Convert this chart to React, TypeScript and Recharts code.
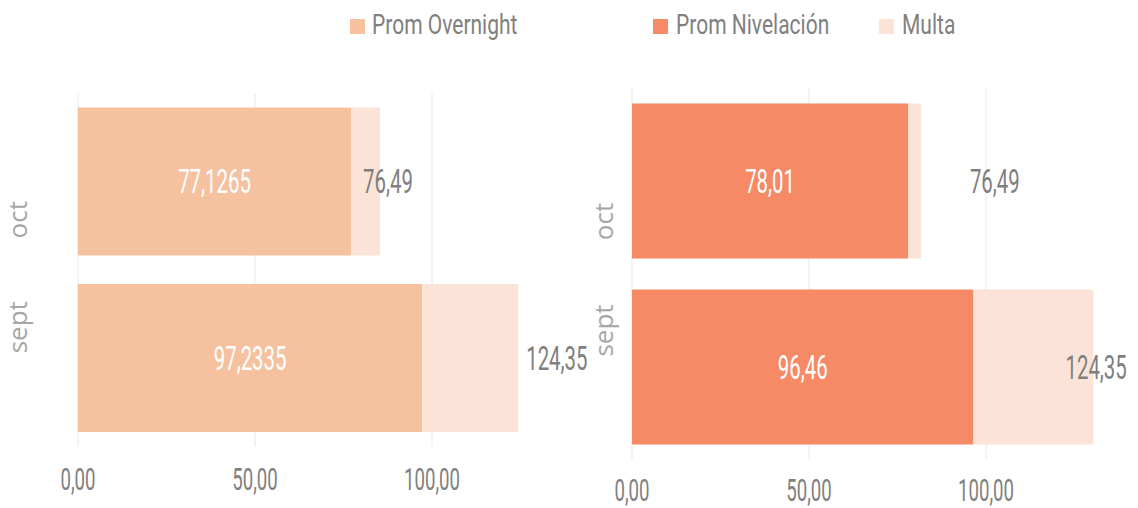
import React from 'react';
import { BarChart, Bar, XAxis, YAxis, CartesianGrid, LabelList } from 'recharts';

// ---------- data ----------
const categories = ['oct', 'sept'];
const promOvernight = [77.1265, 97.2335];
const multaOvernight = [8.2, 27.12];
const promNivelacion = [78.01, 96.46];
const multaNivelacion = [3.6, 33.9];
const multaLabels = ['76,49', '124,35'];
const xTicks = [0, 50, 100];
const xTickLabels = ['0,00', '50,00', '100,00'];
const xDomain: [number, number] = [0, 140];
const seriesNames = ['Prom Overnight', 'Prom Nivelación', 'Multa'];

// ---------- styles ----------
const COLOR_OVERNIGHT = '#F6C19F';
const COLOR_NIVELACION = '#F68966';
const COLOR_MULTA = '#FBE4D7';
const TEXT_GRAY = '#7F7F7F';
const NUM_FONT = 'Roboto, "Liberation Sans", sans-serif';
const NUM_SCALE = 0.6;

const fmt = (v: number) => String(v).replace('.', ',');

type NTProps = { x: number; y: number; text: string; size: number; fill: string; anchor?: string; sx?: number };
const NarrowText = ({ x, y, text, size, fill, anchor = 'middle', sx = NUM_SCALE }: NTProps) => (
  <text
    transform={`translate(${x},${y}) scale(${sx},1)`}
    textAnchor={anchor}
    dominantBaseline="central"
    fontFamily={NUM_FONT}
    fontSize={size}
    fill={fill}
  >
    {text}
  </text>
);

const makeData = (main: number[], multa: number[]) =>
  categories.map((c, i) => ({ cat: c, main: main[i], multa: multa[i], multaLabel: multaLabels[i] }));

// grid only at the tick values (no extra line at the plot edge)
const gridGenerator = (props: any) => {
  const s = props?.xAxis?.scale;
  const off = props?.offset;
  return xTicks.map((t) => {
    let v: any = NaN;
    if (typeof s === 'function') v = s(t);
    else if (s && typeof s.map === 'function') v = s.map(t);
    if (typeof v !== 'number' || !isFinite(v)) {
      if (off) v = off.left + ((t - xDomain[0]) / (xDomain[1] - xDomain[0])) * off.width;
    }
    return v;
  });
};

type PanelProps = {
  data: any[];
  mainColor: string;
  mainName: string;
  left: number;
  width: number;
  margin: { top: number; right: number; bottom: number; left: number };
  yAxisWidth: number;
  barSize: number;
  catX: number;
  catShift: Record<string, number>;
  tickOffset: number;
  multaDx: number[];
};

const Panel = (p: PanelProps) => {
  const CatTick = (tp: any) => {
    const v = tp.payload?.value;
    const y = tp.y + (p.catShift[v] || 0);
    return (
      <text
        transform={`translate(${p.catX},${y}) rotate(-90)`}
        textAnchor="middle"
        fontFamily='"Open Sans", sans-serif'
        fontSize={26}
        fill="#A6A6A6"
      >
        {v}
      </text>
    );
  };
  const XTick = (tp: any) => {
    const v = tp.payload?.value;
    const idx = xTicks.indexOf(v);
    return <NarrowText x={tp.x} y={tp.y + p.tickOffset} text={idx >= 0 ? xTickLabels[idx] : String(v)} size={31} fill="#808080" />;
  };
  const InsideLabel = (lp: any) => {
    const { x, y, width, height, value } = lp;
    return <NarrowText x={x + width / 2} y={y + height / 2} text={fmt(value)} size={34} fill="#FFFFFF" />;
  };
  const MultaLabel = (lp: any) => {
    const { x, y, width, height, value } = lp;
    let index = lp.index;
    if (index === undefined || index === null) index = multaLabels.indexOf(value);
    const dx = p.multaDx[index] || 0;
    return <NarrowText x={x + width + dx} y={y + height / 2} text={String(value)} size={34} fill={TEXT_GRAY} anchor="start" />;
  };
  return (
    <div style={{ position: 'absolute', left: p.left, top: 0 }}>
      <BarChart width={p.width} height={508} data={p.data} layout="vertical" margin={p.margin}>
        <CartesianGrid
          vertical
          horizontal={false}
          stroke="#EFEFEF"
          strokeWidth={1.5}
          verticalCoordinatesGenerator={gridGenerator}
        />
        <XAxis
          type="number"
          domain={xDomain}
          ticks={xTicks}
          interval={0}
          axisLine={false}
          tickLine={false}
          tickSize={0}
          tickMargin={0}
          height={30}
          tick={XTick}
        />
        <YAxis
          type="category"
          dataKey="cat"
          width={p.yAxisWidth}
          axisLine={false}
          tickLine={false}
          tickSize={0}
          tickMargin={0}
          tick={CatTick}
        />
        <Bar dataKey="main" name={p.mainName} stackId="a" fill={p.mainColor} barSize={p.barSize} isAnimationActive={false}>
          <LabelList dataKey="main" content={InsideLabel} />
        </Bar>
        <Bar dataKey="multa" name="Multa" stackId="a" fill={COLOR_MULTA} barSize={p.barSize} isAnimationActive={false}>
          <LabelList dataKey="multaLabel" content={MultaLabel} />
        </Bar>
      </BarChart>
    </div>
  );
};

const legendItems = [
  { name: seriesNames[0], color: COLOR_OVERNIGHT, sq: 350, tx: 372 },
  { name: seriesNames[1], color: COLOR_NIVELACION, sq: 653, tx: 676 },
  { name: seriesNames[2], color: COLOR_MULTA, sq: 879, tx: 902 },
];

export default function App() {
  const leftData = makeData(promOvernight, multaOvernight);
  const rightData = makeData(promNivelacion, multaNivelacion);
  return (
    <div style={{ position: 'absolute', left: 0, top: 0, width: 1138, height: 508, background: '#FFFFFF', overflow: 'hidden' }}>
      {legendItems.map((it) => (
        <React.Fragment key={it.name}>
          <div style={{ position: 'absolute', left: it.sq, top: 19, width: 15, height: 15, background: it.color }} />
          <span
            style={{
              position: 'absolute',
              left: it.tx,
              top: 11.4,
              fontFamily: NUM_FONT,
              fontSize: 28,
              lineHeight: '28px',
              color: '#808080',
              whiteSpace: 'nowrap',
              transform: 'scaleX(0.75)',
              transformOrigin: 'left center',
            }}
          >
            {it.name}
          </span>
        </React.Fragment>
      ))}
      <Panel
        data={leftData}
        mainColor={COLOR_OVERNIGHT}
        mainName={seriesNames[0]}
        left={0}
        width={600}
        margin={{ top: 93.5, right: 26.4, bottom: 31.5, left: 0 }}
        yAxisWidth={78}
        barSize={148}
        catX={27}
        catShift={{ oct: 38, sept: -31 }}
        tickOffset={32.5}
        multaDx={[-17, 8]}
      />
      <Panel
        data={rightData}
        mainColor={COLOR_NIVELACION}
        mainName={seriesNames[1]}
        left={560}
        width={578}
        margin={{ top: 87.5, right: 10.4, bottom: 18.5, left: 0 }}
        yAxisWidth={72}
        barSize={155}
        catX={53}
        catShift={{ oct: 41, sept: -36 }}
        tickOffset={31}
        multaDx={[49, -28]}
      />
    </div>
  );
}
